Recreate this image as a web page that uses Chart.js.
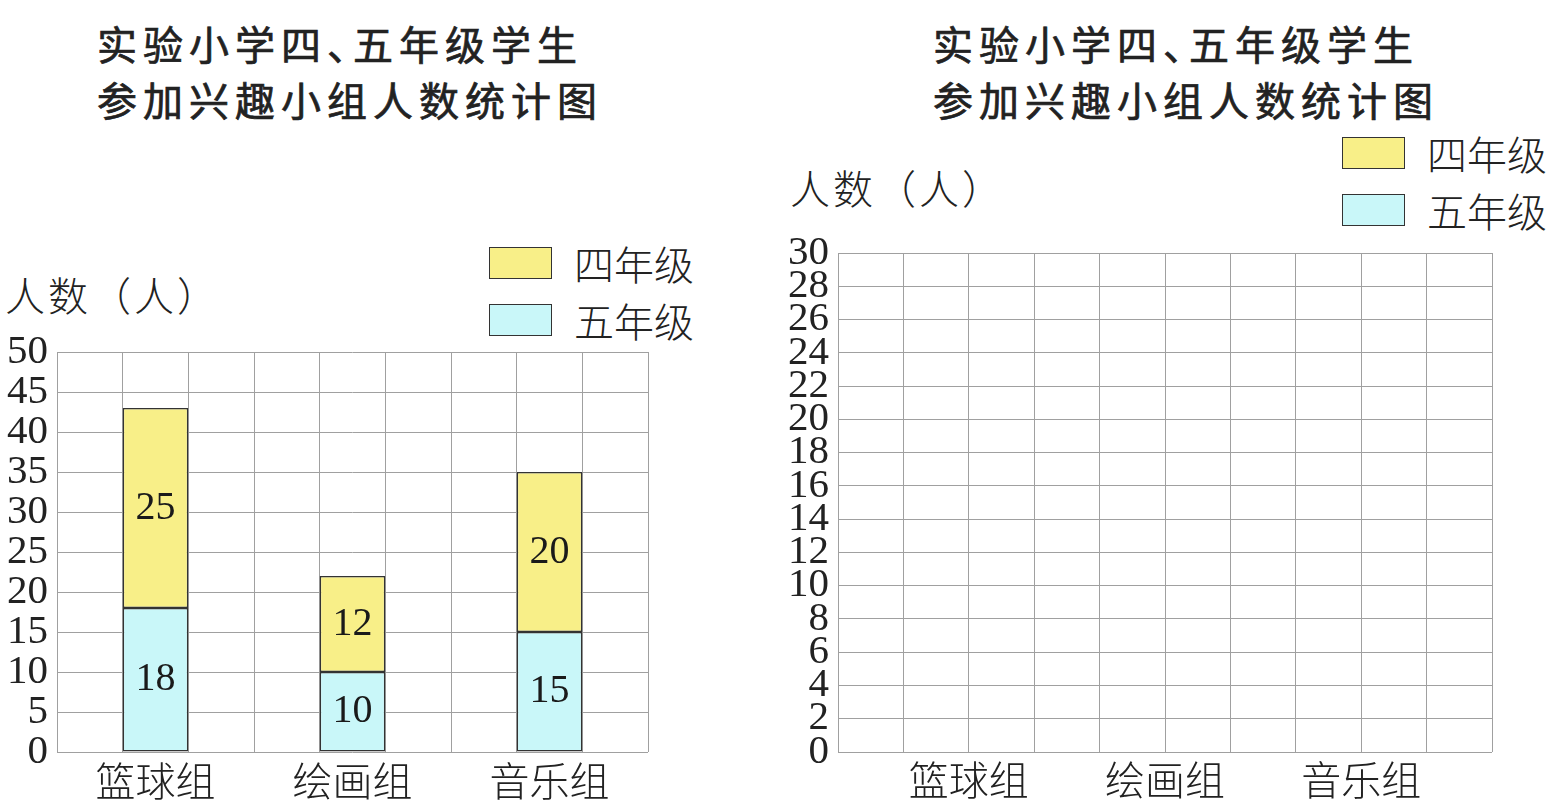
<!DOCTYPE html>
<html lang="zh-CN">
<head>
<meta charset="UTF-8">
<title>实验小学四、五年级学生参加兴趣小组人数统计图</title>
<script src="https://cdn.jsdelivr.net/npm/chart.js"></script>
<style>
    body {
        margin: 0;
        width: 1546px;
        height: 805px;
        position: relative;
        overflow: hidden;
        background: #fff;
        color: #222;
        font-family: "Noto Sans CJK SC", sans-serif;
    }
    .titulo {
        position: absolute;
        top: 15px;
        font-size: 40px;
        font-weight: 400;
        -webkit-text-stroke: 0.7px #222;
        line-height: 56px;
        letter-spacing: 6px;
        white-space: nowrap;
    }
    .virgula { letter-spacing: -14px; }
    .eixo {
        position: absolute;
        font-size: 40px;
        font-weight: 300;
        line-height: 40px;
        letter-spacing: 3px;
        white-space: nowrap;
    }
    .legenda { position: absolute; }
    .legenda .item {
        display: flex;
        align-items: center;
        height: 33px;
        margin-bottom: 24px;
    }
    .legenda .caixa {
        width: 61px;
        height: 30px;
        border: 1.5px solid #333;
        margin-right: 22px;
    }
    .legenda span {
        font-size: 40px;
        font-weight: 300;
        line-height: 40px;
        white-space: nowrap;
    }
    .grafico { position: absolute; top: 0; height: 805px; }
</style>
</head>
<body>

<div class="titulo" style="left:97px">实验小学四<span class="virgula">、</span>五年级学生<br>参加兴趣小组人数统计图</div>
<div class="titulo" style="left:933px">实验小学四<span class="virgula">、</span>五年级学生<br>参加兴趣小组人数统计图</div>

<div class="eixo" style="left:5px; top:274px">人数（人）</div>
<div class="eixo" style="left:790px; top:167px">人数（人）</div>

<div class="legenda" id="legendaEsq" style="left:489px; top:246px"></div>
<div class="legenda" id="legendaDir" style="left:1342px; top:136px"></div>

<div class="grafico" style="left:0; width:700px"><canvas id="graficoFeito"></canvas></div>
<div class="grafico" style="left:770px; width:776px"><canvas id="graficoVazio"></canvas></div>

<script>
    // dados
    const grupos = ['篮球组', '绘画组', '音乐组'];
    const quartoAno = [25, 12, 20];   // 四年级
    const quintoAno = [18, 10, 15];   // 五年级
    const series = ['四年级', '五年级'];

    // escalas do eixo y: [min, max, passo]
    const escalaFeito = [0, 50, 5];
    const escalaVazio = [0, 30, 2];

    const amarelo = '#f8ef88';
    const azul = '#c9f7f9';
    const grade = '#a0a0a0';
    const contorno = '#333';

    const fonteNum = { family: '"Liberation Serif", serif', size: 41 };
    const fonteCat = { family: '"Noto Sans CJK SC", sans-serif', size: 40, weight: 300 };

    // legenda em html (mesma ordem do livro)
    function montarLegenda(id) {
        const cores = [amarelo, azul];
        document.getElementById(id).innerHTML = series.map((s, i) =>
            `<div class="item"><div class="caixa" style="background:${cores[i]}"></div><span>${s}</span></div>`
        ).join('');
    }
    montarLegenda('legendaEsq');
    montarLegenda('legendaDir');

    // numeros dentro das barras
    const rotulos = {
        id: 'rotulos',
        afterDatasetsDraw(chart) {
            const ctx = chart.ctx;
            ctx.save();
            ctx.font = `40px ${fonteNum.family}`;
            ctx.fillStyle = '#1a1a1a';
            ctx.textAlign = 'center';
            ctx.textBaseline = 'middle';
            chart.data.datasets.forEach((ds, i) => {
                chart.getDatasetMeta(i).data.forEach((barra, j) => {
                    const p = barra.getProps(['x', 'y', 'base'], true);
                    ctx.fillText(ds.data[j], p.x, (p.y + p.base) / 2);
                });
            });
            ctx.restore();
        }
    };

    function eixoY(escala, largura) {
        return {
            stacked: true,
            min: escala[0],
            max: escala[1],
            ticks: { stepSize: escala[2], autoSkip: false, font: fonteNum, color: '#222', padding: 9 },
            grid: { color: grade, lineWidth: 1, drawTicks: false },
            border: { display: false },
            afterFit: s => { s.width = largura; }
        };
    }

    // grafico preenchido
    new Chart(document.getElementById('graficoFeito'), {
        type: 'bar',
        data: {
            labels: grupos,
            datasets: [
                { label: series[1], data: quintoAno, backgroundColor: azul, borderColor: contorno, borderWidth: 1.5, borderSkipped: false },
                { label: series[0], data: quartoAno, backgroundColor: amarelo, borderColor: contorno, borderWidth: 1.5, borderSkipped: false }
            ]
        },
        options: {
            responsive: true,
            maintainAspectRatio: false,
            animation: false,
            barPercentage: 1,
            categoryPercentage: 1 / 3,
            layout: { padding: { top: 352, right: 52, left: 0, bottom: 0 } },
            plugins: { legend: { display: false }, tooltip: { enabled: false } },
            scales: {
                x: {
                    stacked: true,
                    grid: { display: false },
                    border: { display: false },
                    ticks: { font: fonteCat, color: '#222', padding: -3, maxRotation: 0, minRotation: 0 },
                    afterFit: s => { s.height = 53; }
                },
                // so para as linhas verticais da malha (9 colunas)
                grade: {
                    type: 'linear',
                    axis: 'x',
                    position: 'top',
                    min: 0,
                    max: 9,
                    offset: false,
                    ticks: { display: false, stepSize: 1, autoSkip: false },
                    grid: { color: grade, lineWidth: 1, drawTicks: false, offset: false },
                    border: { display: false },
                    afterFit: s => { s.height = 0; }
                },
                y: eixoY(escalaFeito, 57)
            }
        },
        plugins: [rotulos]
    });

    // grafico em branco para completar (10 colunas)
    new Chart(document.getElementById('graficoVazio'), {
        type: 'bar',
        data: {
            datasets: [
                { label: series[1], data: [], backgroundColor: azul, borderColor: contorno, borderWidth: 1.5 },
                { label: series[0], data: [], backgroundColor: amarelo, borderColor: contorno, borderWidth: 1.5 }
            ]
        },
        options: {
            responsive: true,
            maintainAspectRatio: false,
            animation: false,
            layout: { padding: { top: 253, right: 54, left: 0, bottom: 0 } },
            plugins: { legend: { display: false }, tooltip: { enabled: false } },
            scales: {
                x: {
                    type: 'linear',
                    min: 0,
                    max: 10,
                    offset: false,
                    grid: { color: grade, lineWidth: 1, drawTicks: false, offset: false },
                    border: { display: false },
                    ticks: {
                        stepSize: 1,
                        autoSkip: false,
                        maxRotation: 0,
                        minRotation: 0,
                        font: fonteCat,
                        color: '#222',
                        padding: 4,
                        // nome do grupo a cada 3 colunas, começando na 2
                        callback: v => {
                            const k = (v - 2) / 3;
                            return Number.isInteger(k) && grupos[k] ? grupos[k] : '';
                        }
                    },
                    afterFit: s => { s.height = 53; }
                },
                y: eixoY(escalaVazio, 68)
            }
        }
    });
</script>
</body>
</html>
